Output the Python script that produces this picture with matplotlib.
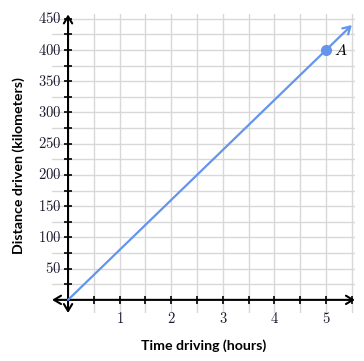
import matplotlib
matplotlib.use("Agg")
import matplotlib.pyplot as plt
import numpy as np

plt.rcParams['mathtext.fontset'] = 'cm'

# data
hours = [0, 5.5]
speed = 80  # km per hour
line_y = [h * speed for h in hours]
point_x = [5]
point_y = [400]
point_label = "A"
x_ticks = [1, 2, 3, 4, 5]
y_ticks = [50, 100, 150, 200, 250, 300, 350, 400, 450]
x_minor = np.arange(0.0, 5.51, 0.5)
y_minor = np.arange(0, 451, 25)

fig = plt.figure(figsize=(3.64, 3.61), dpi=100)
ax = fig.add_axes([0.143, 0.133, 0.832, 0.827])
ax.set_xlim(-0.31, 5.56)
ax.set_ylim(-21, 457)

blue = '#6495ED'
gridc = '#d8d8d8'

for xv in x_minor:
    if xv != 0:
        ax.axvline(xv, color=gridc, lw=1.0, zorder=0)
for yv in y_minor:
    if yv != 0:
        ax.axhline(yv, color=gridc, lw=1.0, zorder=0)

for s in ['top', 'right', 'left', 'bottom']:
    ax.spines[s].set_visible(False)

# axes with arrows
ax.annotate('', xy=(5.56, 0), xytext=(-0.31, 0),
            arrowprops=dict(arrowstyle='<->,head_length=0.5,head_width=0.3', color='black', lw=1.5,
                            shrinkA=0, shrinkB=0))
ax.annotate('', xy=(0, 457), xytext=(0, -21),
            arrowprops=dict(arrowstyle='<->,head_length=0.5,head_width=0.3', color='black', lw=1.5,
                            shrinkA=0, shrinkB=0))

# tick marks crossing the axes
tick_ms = 5.8
for xv in x_minor:
    if xv != 0:
        ax.plot([xv], [0], marker='|', ms=tick_ms, color='black', mew=1.2, zorder=3)
for yv in y_minor:
    if yv != 0:
        ax.plot([0], [yv], marker='_', ms=tick_ms, color='black', mew=1.2, zorder=3)

ax.set_xticks([])
ax.set_yticks([])

# tick labels
for xv in x_ticks:
    ax.annotate(r'$%d$' % xv, xy=(xv, 0), xytext=(0, -11), textcoords='offset pixels',
                ha='center', va='top', fontsize=10.5, color='#1a1a2e')
for yv in y_ticks:
    ax.annotate(r'$%d$' % yv, xy=(0, yv), xytext=(-7, 0), textcoords='offset pixels',
                ha='right', va='center', fontsize=10.5, color='#1a1a2e')

# the line
ax.annotate('', xy=(hours[1], line_y[1]), xytext=(hours[0], line_y[0]),
            arrowprops=dict(arrowstyle='->,head_length=0.5,head_width=0.3', color=blue, lw=1.6,
                            shrinkA=0, shrinkB=0), zorder=4)
ax.plot(point_x, point_y, 'o', color=blue, ms=7, zorder=5)
ax.annotate(r'$%s$' % point_label, xy=(point_x[0], point_y[0]), xytext=(8, 0),
            textcoords='offset pixels', ha='left', va='center', fontsize=11.5)

fig.text(0.56, 0.043, 'Time driving (hours)', ha='center', va='center',
         fontsize=10.2, fontfamily='Lato', fontweight='bold')
fig.text(0.05, 0.54, 'Distance driven (kilometers)', ha='center', va='center',
         rotation=90, fontsize=10.2, fontfamily='Lato', fontweight='bold')

fig.savefig('out.png', dpi=100)
